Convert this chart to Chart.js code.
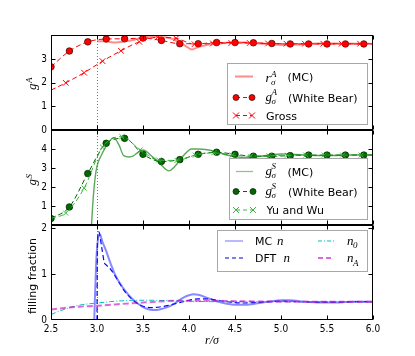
<!DOCTYPE html>
<html>
<head>
<meta charset="utf-8">
<script src="https://cdn.jsdelivr.net/npm/chart.js@4.4.1/dist/chart.umd.min.js"></script>
<style>
  html, body { margin: 0; padding: 0; background: #fff; }
  #wrap { position: relative; width: 415px; height: 356px; }
  #wrap canvas { position: absolute; left: 0; top: 0; }
</style>
</head>
<body>
<div id="wrap">
  <canvas id="pA" width="415" height="356"></canvas>
  <canvas id="pS" width="415" height="356"></canvas>
  <canvas id="pN" width="415" height="356"></canvas>
</div>
<script>
// values
var xTicks = [2.5, 3.0, 3.5, 4.0, 4.5, 5.0, 5.5, 6.0];
var yTicksA = [0, 1, 2, 3];
var yTicksS = [1, 2, 3, 4];
var yTicksN = [0, 1, 2];

// top panel: g^A
var xWB = [2.5, 2.7, 2.9, 3.1, 3.3, 3.5, 3.7, 3.9, 4.1, 4.3, 4.5, 4.7, 4.9, 5.1, 5.3, 5.5, 5.7, 5.9, 6.0];
var gA_WB = [2.68, 3.35, 3.74, 3.86, 3.87, 3.90, 3.80, 3.66, 3.66, 3.71, 3.71, 3.70, 3.67, 3.65, 3.65, 3.65, 3.65, 3.65, 3.65];
var xGross = [2.5, 2.66, 2.86, 3.06, 3.26, 3.46, 3.66, 3.86, 4.06, 4.26, 4.46, 4.66, 4.86, 5.06, 5.26, 5.46, 5.66, 5.86, 6.0];
var gA_Gross = [1.69, 2.0, 2.43, 2.92, 3.36, 3.74, 3.93, 3.89, 3.64, 3.67, 3.69, 3.69, 3.67, 3.66, 3.66, 3.66, 3.66, 3.66, 3.66];
var xMCA = [3.0, 3.1, 3.2, 3.3, 3.4, 3.5, 3.6, 3.7, 3.8, 3.9, 3.95, 4.03, 4.1, 4.2, 4.3, 4.4, 4.5, 4.6, 4.7, 4.8, 4.9, 5.0, 5.1, 5.2, 5.3, 5.4, 5.6, 5.8, 6.0];
var gA_MC = [3.77, 3.76, 3.71, 3.76, 3.83, 3.92, 3.96, 3.95, 3.89, 3.72, 3.6, 3.42, 3.52, 3.62, 3.66, 3.7, 3.72, 3.71, 3.69, 3.66, 3.63, 3.61, 3.61, 3.63, 3.65, 3.67, 3.67, 3.66, 3.66];

// middle panel: g^S
var gS_WB = [0.34, 0.95, 2.71, 4.30, 4.56, 3.72, 3.34, 3.44, 3.72, 3.83, 3.72, 3.62, 3.62, 3.65, 3.68, 3.68, 3.68, 3.68, 3.68];
var xYW = [2.5, 2.66, 2.86, 3.06, 3.27, 3.47, 3.67, 3.87, 4.07, 4.27, 4.47, 4.67, 4.87, 5.07, 5.27, 5.47, 5.67, 5.87, 6.0];
var gS_YW = [0.36, 0.63, 1.94, 4.1, 4.65, 3.95, 3.42, 3.4, 3.68, 3.8, 3.68, 3.62, 3.64, 3.67, 3.68, 3.68, 3.68, 3.68, 3.68];
var xMCS = [2.94, 2.96, 2.98, 3.0, 3.05, 3.1, 3.18, 3.24, 3.29, 3.35, 3.39, 3.44, 3.5, 3.6, 3.7, 3.78, 3.85, 3.93, 4.03, 4.1, 4.2, 4.3, 4.4, 4.5, 4.6, 4.7, 4.8, 4.9, 5.0, 5.1, 5.2, 5.3, 5.4, 5.5, 5.6, 5.7, 5.8, 5.9, 6.0];
var gS_MC = [0, 1.5, 2.5, 3.1, 3.7, 4.15, 4.6, 4.2, 3.65, 3.58, 3.62, 3.8, 3.95, 3.6, 3.15, 2.85, 3.1, 3.6, 4.0, 4.0, 3.96, 3.85, 3.7, 3.6, 3.55, 3.57, 3.63, 3.7, 3.74, 3.73, 3.7, 3.67, 3.65, 3.65, 3.66, 3.68, 3.69, 3.69, 3.69];

// bottom panel: filling fraction
var xMCn = [2.97, 2.99, 3.01, 3.03, 3.06, 3.1, 3.15, 3.2, 3.25, 3.3, 3.35, 3.4, 3.45, 3.5, 3.55, 3.6, 3.65, 3.7, 3.75, 3.8, 3.85, 3.9, 3.95, 4.0, 4.05, 4.1, 4.15, 4.2, 4.3, 4.4, 4.5, 4.6, 4.7, 4.8, 4.9, 5.0, 5.1, 5.2, 5.3, 5.4, 5.5, 5.6, 5.7, 5.8, 5.9, 6.0];
var n_MC = [0, 1.2, 1.75, 1.87, 1.7, 1.5, 1.22, 0.97, 0.8, 0.65, 0.53, 0.43, 0.35, 0.28, 0.24, 0.22, 0.22, 0.24, 0.27, 0.31, 0.37, 0.44, 0.5, 0.54, 0.56, 0.55, 0.52, 0.48, 0.41, 0.36, 0.33, 0.33, 0.35, 0.38, 0.41, 0.43, 0.43, 0.41, 0.39, 0.38, 0.38, 0.38, 0.39, 0.4, 0.4, 0.4];
var xDFT = [3.0, 3.005, 3.02, 3.05, 3.08, 3.1, 3.15, 3.2, 3.3, 3.4, 3.5, 3.6, 3.7, 3.8, 3.9, 4.0, 4.1, 4.2, 4.3, 4.4, 4.5, 4.6, 4.7, 4.8, 4.9, 5.0, 5.2, 5.4, 5.6, 5.8, 6.0];
var n_DFT = [0, 1.7, 1.92, 1.6, 1.25, 1.2, 1.1, 0.95, 0.63, 0.42, 0.3, 0.27, 0.29, 0.33, 0.38, 0.43, 0.46, 0.46, 0.43, 0.4, 0.38, 0.37, 0.38, 0.39, 0.4, 0.41, 0.4, 0.39, 0.39, 0.4, 0.4];
var xN0 = [2.5, 2.6, 2.7, 2.8, 2.9, 3.0, 3.1, 3.2, 3.3, 3.4, 3.6, 3.8, 4.0, 4.2, 4.5, 5.0, 5.5, 6.0];
var n_0 = [0.12, 0.2, 0.27, 0.32, 0.35, 0.37, 0.39, 0.41, 0.42, 0.43, 0.43, 0.42, 0.41, 0.40, 0.40, 0.40, 0.40, 0.40];
var xNA = [2.5, 2.8, 3.0, 3.2, 3.5, 3.9, 4.2, 4.5, 5.0, 5.5, 6.0];
var n_A = [0.23, 0.29, 0.31, 0.34, 0.38, 0.42, 0.42, 0.41, 0.40, 0.40, 0.40];

var SERIF = '"Liberation Serif", "DejaVu Serif", serif';
var SANS = '"DejaVu Sans", sans-serif';
var TICKFONT = '"DejaVu Sans Condensed", "DejaVu Sans", sans-serif';
var MATH = 'italic 13px ' + SERIF, SMALL = 'italic 9px ' + SERIF, TXT = '11px ' + SANS;

function pts(xs, ys) {
  return xs.map(function (x, i) { return { x: x, y: ys[i] }; });
}
// markers only on the real data points (not on the line ends)
function marks(n, r, skipFirst) {
  return function (c) {
    if (c.dataIndex === n - 1 || (skipFirst && c.dataIndex === 0)) return 0;
    return r;
  };
}

function drawParts(ctx, parts, y) {
  ctx.fillStyle = '#000';
  ctx.textAlign = 'left';
  ctx.textBaseline = 'alphabetic';
  parts.forEach(function (p) {
    ctx.font = p.f;
    ctx.fillText(p.t, p.x, y + p.dy);
  });
}

function drawSample(ctx, s, x0, x1, y) {
  ctx.save();
  ctx.strokeStyle = s.color;
  ctx.lineWidth = s.width || 1;
  ctx.setLineDash(s.dash || []);
  ctx.beginPath(); ctx.moveTo(x0, y); ctx.lineTo(x1, y); ctx.stroke();
  ctx.setLineDash([]);
  [x0, x1].forEach(function (x) {
    if (s.marker === 'circle') {
      ctx.beginPath(); ctx.arc(x, y, 3, 0, Math.PI * 2);
      ctx.fillStyle = s.fill; ctx.fill();
      ctx.lineWidth = 0.7; ctx.strokeStyle = s.edge; ctx.stroke();
    } else if (s.marker === 'x') {
      ctx.beginPath();
      ctx.moveTo(x - 3, y - 3); ctx.lineTo(x + 3, y + 3);
      ctx.moveTo(x - 3, y + 3); ctx.lineTo(x + 3, y - 3);
      ctx.lineWidth = 1; ctx.strokeStyle = s.color; ctx.stroke();
    }
  });
  ctx.restore();
}

var deco = {
  id: 'deco',
  beforeDatasetsDraw: function (chart) {
    var a = chart.chartArea, ctx = chart.ctx;
    var px = Math.round(chart.scales.x.getPixelForValue(3.0)) + 0.5;
    ctx.save();
    ctx.strokeStyle = '#777'; ctx.lineWidth = 1; ctx.setLineDash([1, 2]);
    ctx.beginPath(); ctx.moveTo(px, a.top); ctx.lineTo(px, a.bottom); ctx.stroke();
    ctx.restore();
  },
  afterDraw: function (chart) {
    var o = chart.options.plugins.deco, a = chart.chartArea, ctx = chart.ctx;
    var xs = chart.scales.x, ys = chart.scales.y;
    ctx.save();
    // legend
    var b = o.legend;
    ctx.fillStyle = '#fff'; ctx.fillRect(b.x, b.y, b.w, b.h);
    ctx.strokeStyle = '#a8a8a8'; ctx.lineWidth = 1;
    ctx.strokeRect(b.x + 0.5, b.y + 0.5, b.w, b.h);
    b.rows.forEach(function (r) {
      drawSample(ctx, r.s, r.x0, r.x1, r.y);
      drawParts(ctx, r.parts, r.y);
    });
    // frame and inward ticks
    ctx.strokeStyle = '#000'; ctx.lineWidth = 1;
    var L = Math.round(a.left) + 0.5, R = Math.round(a.right) - 0.5;
    var T = Math.round(a.top) + 0.5, B = Math.round(a.bottom) - 0.5;
    ctx.strokeRect(L, T, R - L, B - T);
    ctx.beginPath();
    xTicks.forEach(function (v) {
      var p = Math.round(xs.getPixelForValue(v)) + 0.5;
      ctx.moveTo(p, T); ctx.lineTo(p, T + 4);
      ctx.moveTo(p, B); ctx.lineTo(p, B - 4);
    });
    o.ymarks.forEach(function (v) {
      var p = Math.round(ys.getPixelForValue(v)) + 0.5;
      ctx.moveTo(L, p); ctx.lineTo(L + 4, p);
      ctx.moveTo(R, p); ctx.lineTo(R - 4, p);
    });
    ctx.stroke();
    // y title
    ctx.translate(33, o.ytitle.y);
    ctx.rotate(-Math.PI / 2);
    var t = o.ytitle;
    if (t.sup) {
      ctx.font = MATH; var w1 = ctx.measureText(t.base).width;
      ctx.font = SMALL; var w2 = ctx.measureText(t.sup).width;
      var x0 = -(w1 + w2) / 2;
      drawParts(ctx, [{ t: t.base, x: x0, dy: 3, f: MATH },
                      { t: t.sup, x: x0 + w1 + 0.5, dy: -1, f: SMALL }], 0);
    } else {
      ctx.font = TXT; ctx.textAlign = 'center'; ctx.textBaseline = 'middle';
      ctx.fillStyle = '#000';
      ctx.fillText(t.base, 0, 0);
    }
    ctx.restore();
    if (o.xtitle) {
      ctx.save();
      ctx.font = 'italic 12px ' + SERIF; ctx.fillStyle = '#000';
      ctx.textAlign = 'center'; ctx.textBaseline = 'middle';
      ctx.fillText('r/\u03c3', (a.left + a.right) / 2, 341);
      ctx.restore();
    }
  }
};

function panel(id, p) {
  return new Chart(document.getElementById(id), {
    type: 'line',
    data: { datasets: p.datasets },
    plugins: [deco],
    options: {
      responsive: false,
      animation: false,
      devicePixelRatio: 1,
      events: [],
      layout: { padding: { left: 21, right: 42, top: p.top, bottom: p.bottom } },
      elements: { point: { radius: 0 }, line: { cubicInterpolationMode: 'monotone' } },
      plugins: { legend: { display: false }, tooltip: { enabled: false }, deco: p.deco },
      scales: {
        x: {
          type: 'linear', min: 2.5, max: 6.0, display: p.showX,
          grid: { display: false, drawTicks: false }, border: { display: false },
          afterBuildTicks: function (s) { s.ticks = xTicks.map(function (v) { return { value: v }; }); },
          afterFit: function (s) { s.height = p.showX ? 36 : 0; },
          ticks: {
            padding: 3, color: '#000', autoSkip: false, maxRotation: 0,
            font: { family: TICKFONT, size: 10 },
            callback: function (v) { return v.toFixed(1); }
          }
        },
        y: {
          type: 'linear', min: 0, max: p.ymax,
          grid: { display: false, drawTicks: false }, border: { display: false },
          afterBuildTicks: function (s) { s.ticks = p.yticks.map(function (v) { return { value: v }; }); },
          afterFit: function (s) { s.width = 30; },
          ticks: {
            padding: 4, color: '#000',
            font: { family: TICKFONT, size: 10 },
            callback: function (v) { return String(v); }
          }
        }
      }
    }
  });
}

var dash = [5, 3];

panel('pA', {
  top: 35, bottom: 226, ymax: 4.03, yticks: yTicksA, showX: false,
  datasets: [
    { data: pts(xMCA, gA_MC), borderColor: 'rgba(255,0,0,0.45)', borderWidth: 2 },
    { data: pts(xGross, gA_Gross), borderColor: '#ff0000', borderWidth: 1, borderDash: dash,
      pointStyle: 'crossRot', pointRadius: marks(xGross.length, 4, true), pointBorderColor: '#ff0000', pointBorderWidth: 1 },
    { data: pts(xWB, gA_WB), borderColor: '#ff0000', borderWidth: 1, borderDash: dash,
      pointStyle: 'circle', pointRadius: marks(xWB.length, 3.3, false),
      pointBackgroundColor: '#ff0000', pointBorderColor: '#400000', pointBorderWidth: 0.7 }
  ],
  deco: {
    ymarks: [1, 2, 3],
    ytitle: { base: 'g', sup: 'A', y: 84 },
    legend: {
      x: 227, y: 63, w: 140, h: 61,
      rows: [
        { y: 76.5, x0: 235, x1: 253, s: { color: 'rgba(255,0,0,0.45)', width: 2 },
          parts: [{ t: 'r', x: 265.5, dy: 5, f: MATH }, { t: 'A', x: 271, dy: 0.5, f: SMALL },
                  { t: '\u03c3', x: 271, dy: 8, f: SMALL }, { t: '(MC)', x: 287.5, dy: 4, f: TXT }] },
        { y: 97.5, x0: 236, x1: 252, s: { color: '#ff0000', dash: [4, 3], marker: 'circle', fill: '#ff0000', edge: '#400000' },
          parts: [{ t: 'g', x: 265.5, dy: 3.5, f: MATH }, { t: 'A', x: 271.5, dy: -3, f: SMALL },
                  { t: '\u03c3', x: 271.5, dy: 6.5, f: SMALL }, { t: '(White Bear)', x: 288, dy: 4, f: TXT }] },
        { y: 115.5, x0: 236, x1: 252, s: { color: '#ff0000', dash: [4, 3], marker: 'x' },
          parts: [{ t: 'Gross', x: 266, dy: 4, f: TXT }] }
      ]
    }
  }
});

panel('pS', {
  top: 130, bottom: 131, ymax: 5.0, yticks: yTicksS, showX: false,
  datasets: [
    { data: pts(xMCS, gS_MC), borderColor: 'rgba(0,125,0,0.65)', borderWidth: 1.4 },
    { data: pts(xYW, gS_YW), borderColor: '#3cb83c', borderWidth: 1, borderDash: dash,
      pointStyle: 'crossRot', pointRadius: marks(xYW.length, 3.5, true), pointBorderColor: '#3cb83c', pointBorderWidth: 1 },
    { data: pts(xWB, gS_WB), borderColor: '#006400', borderWidth: 1, borderDash: dash,
      pointStyle: 'circle', pointRadius: marks(xWB.length, 3.3, false),
      pointBackgroundColor: '#006a00', pointBorderColor: '#002000', pointBorderWidth: 0.7 }
  ],
  deco: {
    ymarks: [1, 2, 3, 4],
    ytitle: { base: 'g', sup: 'S', y: 180 },
    legend: {
      x: 229, y: 158, w: 138, h: 61,
      rows: [
        { y: 171.5, x0: 236, x1: 253, s: { color: 'rgba(0,150,0,0.5)', width: 1.2 },
          parts: [{ t: 'g', x: 265.5, dy: 3.5, f: MATH }, { t: 'S', x: 271.5, dy: -3, f: SMALL },
                  { t: '\u03c3', x: 271.5, dy: 6.5, f: SMALL }, { t: '(MC)', x: 287.5, dy: 4, f: TXT }] },
        { y: 191.5, x0: 236, x1: 253, s: { color: '#006400', dash: [4, 3], marker: 'circle', fill: '#006a00', edge: '#002000' },
          parts: [{ t: 'g', x: 265.5, dy: 3.5, f: MATH }, { t: 'S', x: 271.5, dy: -3, f: SMALL },
                  { t: '\u03c3', x: 271.5, dy: 6.5, f: SMALL }, { t: '(White Bear)', x: 288, dy: 4, f: TXT }] },
        { y: 210, x0: 236, x1: 253, s: { color: '#3cb83c', dash: [4, 3], marker: 'x' },
          parts: [{ t: 'Yu and Wu', x: 266.5, dy: 4, f: TXT }] }
      ]
    }
  }
});

panel('pN', {
  top: 225, bottom: 0, ymax: 2.07, yticks: yTicksN, showX: true,
  datasets: [
    { data: pts(xNA, n_A), borderColor: 'rgba(200,0,200,0.6)', borderWidth: 2, borderDash: [6, 3] },
    { data: pts(xN0, n_0), borderColor: '#00bfbf', borderWidth: 1, borderDash: [5, 2, 1, 2] },
    { data: pts(xMCn, n_MC), borderColor: 'rgba(40,40,255,0.55)', borderWidth: 2 },
    { data: pts(xDFT, n_DFT), borderColor: '#0000ff', borderWidth: 1.2, borderDash: dash }
  ],
  deco: {
    ymarks: [1, 2],
    ytitle: { base: 'filling fraction', y: 276 },
    xtitle: true,
    legend: {
      x: 217, y: 230, w: 150, h: 41,
      rows: [
        { y: 241, x0: 225, x1: 243, s: { color: 'rgba(40,40,255,0.5)', width: 1.3 },
          parts: [{ t: 'MC', x: 255, dy: 4, f: TXT }, { t: 'n', x: 277, dy: 4, f: MATH }] },
        { y: 258, x0: 225, x1: 243, s: { color: '#0000cc', dash: [4, 3], width: 1.2 },
          parts: [{ t: 'DFT', x: 255, dy: 4, f: TXT }, { t: 'n', x: 283.5, dy: 4, f: MATH }] },
        { y: 241, x0: 318, x1: 334, s: { color: '#00bfbf', dash: [4, 2, 1, 2] },
          parts: [{ t: 'n', x: 347, dy: 4, f: MATH }, { t: '0', x: 353, dy: 7, f: SMALL }] },
        { y: 258, x0: 318, x1: 334, s: { color: 'rgba(200,0,200,0.6)', dash: [5, 3], width: 2 },
          parts: [{ t: 'n', x: 347, dy: 4, f: MATH }, { t: 'A', x: 353, dy: 7.5, f: SMALL }] }
      ]
    }
  }
});
</script>
</body>
</html>
